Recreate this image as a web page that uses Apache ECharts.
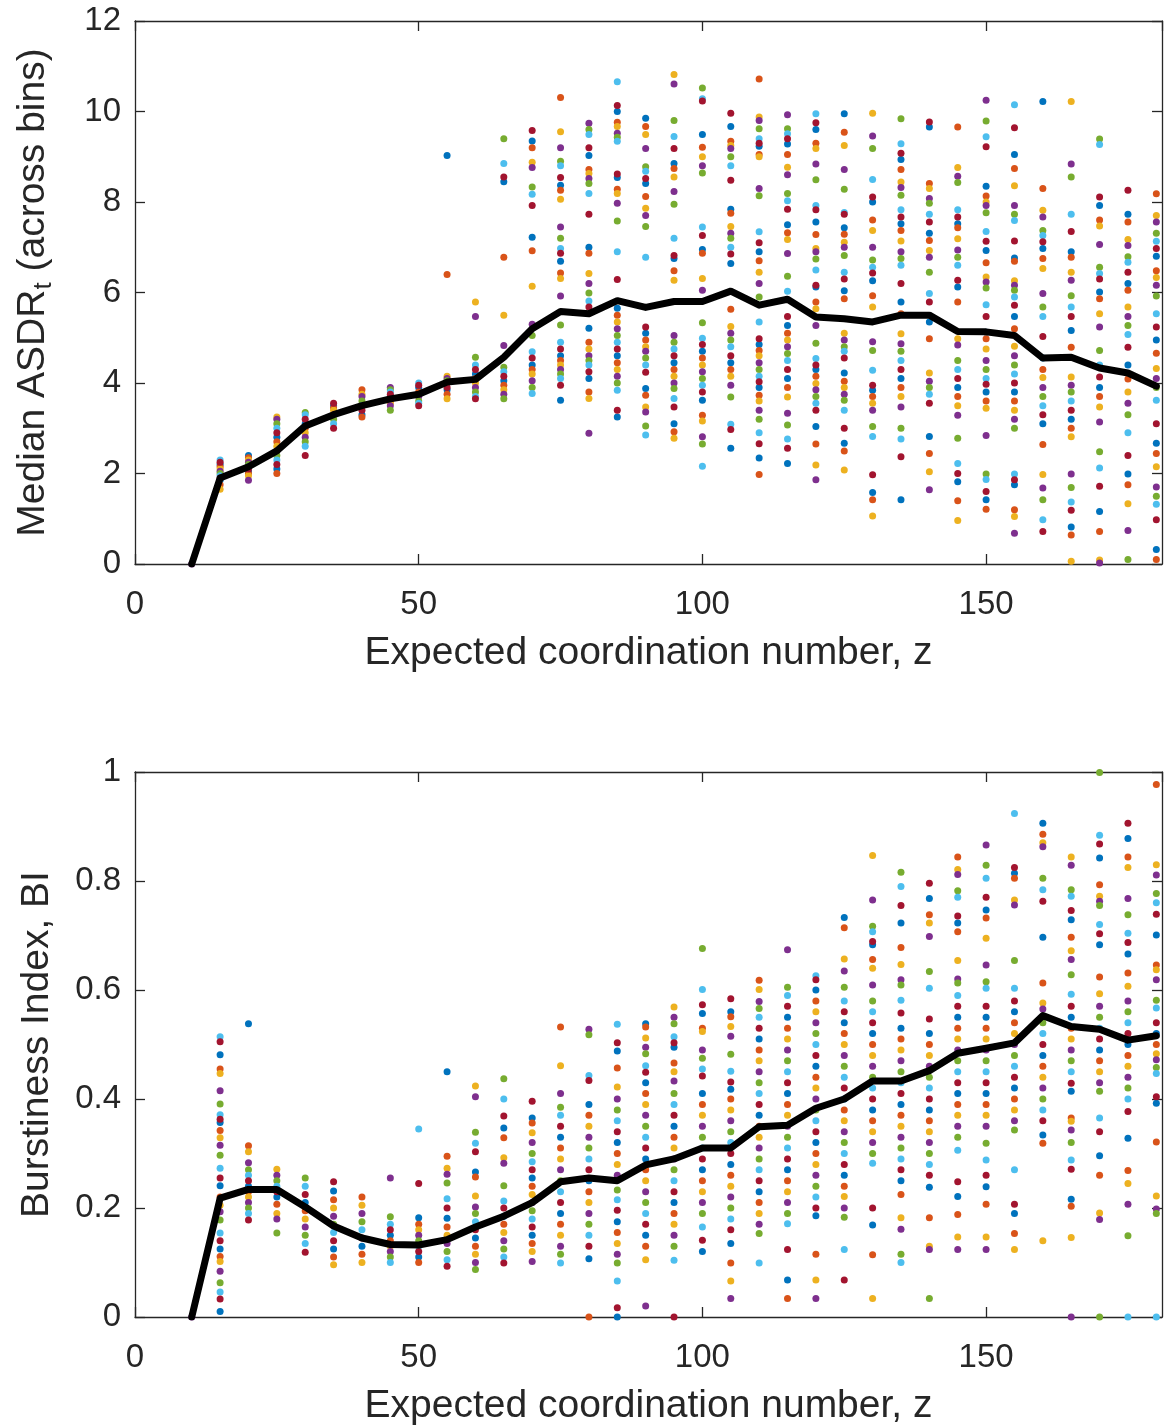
<!DOCTYPE html>
<html>
<head>
<meta charset="utf-8">
<script src="https://cdn.jsdelivr.net/npm/echarts@6/dist/echarts.min.js"></script>
<style>
  html, body { margin: 0; padding: 0; background: #fff; }
  #main { width: 1171px; height: 1427px; }
</style>
</head>
<body>
<div id="main"></div>
<script>
// expected coordination number (x columns)
var zValues = [10, 15, 20, 25, 30, 35, 40, 45, 50, 55, 60, 65, 70, 75, 80, 85, 90, 95, 100,
  105, 110, 115, 120, 125, 130, 135, 140, 145, 150, 155, 160, 165, 170, 175, 180];

// black median curves
var asdrMedian = [0, 1.9, 2.15, 2.5, 3.05, 3.3, 3.5, 3.65, 3.75, 4.02, 4.08, 4.57, 5.2, 5.58, 5.53,
  5.82, 5.67, 5.8, 5.8, 6.03, 5.72, 5.85, 5.46, 5.42, 5.35, 5.5, 5.5, 5.14, 5.13, 5.05, 4.55, 4.57,
  4.33, 4.22, 3.93];
var biMedian = [0, 0.218, 0.234, 0.234, 0.202, 0.167, 0.145, 0.133, 0.132, 0.142, 0.165, 0.185,
  0.21, 0.248, 0.255, 0.25, 0.279, 0.29, 0.31, 0.31, 0.349, 0.352, 0.383, 0.4, 0.433, 0.433, 0.452,
  0.484, 0.493, 0.503, 0.553, 0.533, 0.528, 0.508, 0.516];

// individual runs, one list per z column (top panel)
var asdrPoints = [
  [0],
  [2.3, 2.25, 2.2, 2.15, 2.1, 2.05, 2.0, 1.95, 1.9, 1.85, 1.75, 1.65],
  [2.4, 2.35, 2.3, 2.25, 2.2, 2.15, 2.1, 2.05, 2.0, 1.95, 1.85],
  [3.25, 3.2, 3.1, 3.0, 2.9, 2.8, 2.7, 2.6, 2.5, 2.4, 2.3, 2.2, 2.1, 2.0],
  [3.35, 3.3, 3.2, 3.1, 3.0, 2.9, 2.8, 2.7, 2.6, 2.4],
  [3.55, 3.5, 3.45, 3.4, 3.3, 3.2, 3.1, 3.0],
  [3.85, 3.75, 3.7, 3.6, 3.5, 3.4, 3.3, 3.25],
  [3.9, 3.85, 3.8, 3.75, 3.7, 3.6, 3.55, 3.5, 3.4],
  [4.0, 3.95, 3.9, 3.8, 3.75, 3.7, 3.6, 3.55, 3.5],
  [9.03, 6.4, 4.15, 4.1, 4.05, 4.0, 3.9, 3.85, 3.75, 3.65],
  [5.79, 5.47, 4.57, 4.4, 4.3, 4.2, 4.1, 4.0, 3.9, 3.8, 3.7, 3.65],
  [9.4, 8.85, 8.55, 8.45, 6.78, 5.5, 4.83, 4.35, 4.25, 4.15, 4.05, 3.95, 3.85, 3.75, 3.65],
  [9.58, 9.35, 9.2, 8.88, 8.76, 8.33, 8.17, 7.92, 7.22, 6.92, 6.14, 5.3, 5.05, 4.69, 4.55, 4.4, 4.3,
    4.2, 4.05, 3.9, 3.77],
  [10.31, 9.55, 9.2, 8.9, 8.8, 8.54, 8.37, 8.26, 8.06, 7.45, 7.2, 6.97, 6.87, 6.69, 6.43, 6.31, 5.92,
    5.28, 4.9, 4.75, 4.6, 4.5, 4.4, 4.3, 4.2, 4.1, 3.95, 3.62],
  [9.74, 9.6, 9.49, 9.2, 9.03, 8.72, 8.63, 8.52, 8.41, 8.19, 7.73, 7.0, 6.87, 6.42, 6.2, 5.99, 5.81,
    5.68, 5.21, 4.9, 4.75, 4.6, 4.5, 4.4, 4.25, 4.1, 3.8, 3.66, 2.89],
  [10.66, 10.13, 10.0, 9.76, 9.67, 9.52, 9.43, 9.34, 8.62, 8.54, 8.28, 8.19, 7.97, 7.58, 6.9, 6.29,
    5.65, 5.5, 5.35, 5.2, 5.05, 4.9, 4.75, 4.6, 4.45, 4.3, 4.15, 4.0, 3.84, 3.4, 3.25],
  [9.85, 9.67, 9.49, 9.18, 8.78, 8.68, 8.52, 8.41, 8.12, 7.86, 7.7, 7.46, 6.78, 5.24, 5.1, 4.95, 4.8,
    4.7, 4.55, 4.4, 4.24, 3.88, 3.73, 3.47, 3.36, 3.05, 2.85],
  [10.82, 10.61, 9.8, 9.45, 9.18, 8.85, 8.74, 8.55, 8.23, 7.95, 7.2, 6.82, 6.75, 6.48, 6.27, 5.05,
    4.9, 4.75, 4.6, 4.45, 4.3, 4.15, 4.0, 3.88, 3.66, 3.47, 3.1, 2.92, 2.78],
  [10.52, 10.28, 10.23, 9.49, 9.21, 9.0, 8.8, 8.64, 7.45, 7.26, 6.95, 6.87, 6.31, 6.05, 5.33, 4.99,
    4.85, 4.7, 4.55, 4.4, 4.25, 4.1, 3.95, 3.8, 3.62, 3.29, 3.16, 2.81, 2.65, 2.16],
  [9.96, 9.67, 9.34, 9.25, 9.18, 9.0, 8.8, 8.48, 7.84, 7.75, 7.46, 7.31, 7.2, 7.0, 6.85, 6.64, 5.63,
    5.25, 5.1, 4.95, 4.8, 4.6, 4.45, 4.3, 4.15, 3.95, 3.69, 3.09, 2.97, 2.56],
  [10.72, 9.88, 9.8, 9.62, 9.4, 9.3, 9.23, 9.05, 9.0, 8.3, 8.14, 7.34, 7.1, 6.9, 6.7, 6.45, 6.2, 5.9,
    5.35, 4.98, 4.85, 4.72, 4.6, 4.45, 4.3, 4.15, 4.03, 3.9, 3.73, 3.6, 3.4, 3.2, 2.9, 2.66, 2.34, 1.98],
  [9.93, 9.62, 9.51, 9.4, 9.28, 9.05, 8.77, 8.6, 8.19, 8.03, 7.84, 7.5, 7.32, 7.17, 6.86, 6.36, 6.03,
    5.47, 5.27, 5.1, 4.95, 4.8, 4.65, 4.5, 4.3, 4.1, 3.9, 3.69, 3.33, 3.07, 2.76, 2.56, 2.22],
  [9.95, 9.75, 9.6, 9.3, 9.18, 8.84, 8.49, 7.92, 7.83, 7.56, 7.28, 6.97, 6.9, 6.74, 6.5, 6.16, 6.12,
    5.79, 5.64, 5.27, 4.88, 4.54, 4.4, 4.3, 4.15, 3.99, 3.85, 3.7, 3.55, 3.4, 3.04, 2.65, 2.19, 1.86],
  [9.95, 9.54, 9.25, 8.72, 8.28, 7.77, 7.73, 7.43, 7.29, 7.11, 7.0, 6.82, 6.45, 6.3, 6.04, 5.86, 5.1,
    4.95, 4.8, 4.7, 4.55, 4.22, 4.04, 3.9, 3.75, 3.62, 3.4, 3.0, 2.67, 2.5, 2.08],
  [9.96, 9.46, 9.18, 8.5, 8.11, 8.0, 7.6, 7.37, 7.0, 6.72, 6.56, 6.43, 6.26, 5.93, 5.68, 4.91, 4.72,
    4.28, 3.95, 3.84, 3.7, 3.55, 3.4, 3.04, 2.82, 1.97, 1.58, 1.42, 1.06],
  [9.84, 9.29, 9.08, 8.94, 8.72, 8.44, 8.32, 8.15, 7.83, 7.67, 7.52, 7.37, 7.14, 6.9, 6.75, 6.6, 6.2,
    5.79, 5.53, 5.09, 4.87, 4.7, 4.5, 4.3, 4.1, 3.9, 3.7, 3.47, 3.0, 2.76, 2.37, 1.42],
  [9.77, 9.66, 8.41, 8.3, 8.08, 7.97, 7.73, 7.56, 7.31, 7.15, 6.93, 6.78, 6.45, 5.98, 5.79, 5.35, 4.98,
    4.22, 4.04, 3.9, 3.75, 3.55, 2.82, 2.44, 2.04, 1.64],
  [9.66, 8.76, 8.57, 8.43, 7.83, 7.67, 7.52, 7.43, 7.19, 6.94, 6.78, 6.6, 6.27, 6.12, 5.79, 4.98, 4.84,
    4.5, 4.3, 4.1, 3.9, 3.7, 3.5, 3.29, 2.78, 2.22, 2.0, 1.82, 1.4, 0.96],
  [10.25, 9.79, 9.44, 9.22, 8.35, 8.13, 8.0, 7.92, 7.76, 7.35, 7.13, 6.93, 6.66, 6.34, 6.23, 6.1, 5.73,
    5.47, 5.12, 4.98, 4.75, 4.5, 4.3, 4.1, 3.97, 3.8, 3.6, 3.44, 2.84, 1.99, 1.87, 1.6, 1.42, 1.21],
  [10.15, 9.64, 9.05, 8.74, 8.36, 7.92, 7.73, 7.59, 7.14, 6.76, 6.69, 6.26, 6.16, 6.05, 5.9, 5.72, 5.47,
    5.2, 4.81, 4.6, 4.4, 4.2, 4.0, 3.8, 3.6, 3.4, 3.2, 3.0, 1.99, 1.86, 1.75, 1.2, 1.05, 0.68],
  [10.22, 8.3, 7.82, 7.67, 7.37, 7.26, 7.12, 6.97, 6.75, 6.53, 5.98, 5.68, 5.47, 5.03, 4.55, 4.3, 4.12,
    3.9, 3.7, 3.5, 3.3, 3.1, 2.64, 1.98, 1.68, 1.42, 0.98, 0.72],
  [10.22, 8.84, 8.55, 7.73, 7.35, 6.9, 6.78, 6.45, 6.27, 5.93, 5.68, 5.47, 5.16, 4.79, 4.13, 3.95, 3.8,
    3.6, 3.4, 3.2, 3.0, 2.81, 1.99, 1.69, 1.37, 1.19, 0.82, 0.64, 0.06],
  [9.39, 9.27, 8.11, 7.92, 7.6, 7.47, 7.06, 6.56, 6.42, 6.3, 6.01, 5.86, 5.53, 5.24, 4.72, 4.4, 4.13,
    3.9, 3.7, 3.47, 3.14, 2.48, 2.12, 1.72, 1.16, 0.72, 0.09, 0.02],
  [8.26, 7.73, 7.56, 7.17, 7.04, 6.79, 6.67, 6.45, 6.2, 6.05, 5.68, 5.47, 5.27, 5.07, 4.79, 4.4, 4.09,
    3.8, 3.55, 3.3, 2.9, 2.4, 1.99, 1.75, 1.33, 0.74, 0.1],
  [8.18, 7.7, 7.56, 7.31, 7.13, 6.97, 6.8, 6.48, 6.33, 6.16, 5.92, 5.53, 5.24, 4.95, 4.66, 4.32, 4.1,
    3.9, 3.62, 3.1, 2.67, 2.44, 2.15, 1.7, 1.5, 1.32, 0.98, 0.32, 0.1]
];

// individual runs, bottom panel
var biPoints = [
  [0],
  [0.514, 0.505, 0.481, 0.455, 0.447, 0.415, 0.391, 0.371, 0.363, 0.357, 0.342, 0.329, 0.315, 0.297,
    0.273, 0.255, 0.241, 0.22, 0.205, 0.193, 0.178, 0.154, 0.14, 0.125, 0.111, 0.102, 0.084, 0.063,
    0.046, 0.033, 0.01],
  [0.538, 0.314, 0.303, 0.283, 0.27, 0.26, 0.25, 0.24, 0.23, 0.22, 0.21, 0.2, 0.19, 0.178],
  [0.271, 0.26, 0.25, 0.24, 0.23, 0.22, 0.207, 0.19, 0.18, 0.154],
  [0.255, 0.24, 0.225, 0.21, 0.195, 0.18, 0.165, 0.15, 0.135, 0.119],
  [0.248, 0.231, 0.215, 0.2, 0.185, 0.17, 0.155, 0.14, 0.125, 0.11, 0.096],
  [0.22, 0.205, 0.19, 0.175, 0.16, 0.145, 0.13, 0.115, 0.1],
  [0.255, 0.184, 0.17, 0.16, 0.15, 0.14, 0.13, 0.12, 0.11, 0.1],
  [0.345, 0.245, 0.182, 0.17, 0.16, 0.15, 0.14, 0.13, 0.12, 0.11, 0.1],
  [0.45, 0.295, 0.273, 0.262, 0.246, 0.217, 0.2, 0.181, 0.165, 0.15, 0.135, 0.12, 0.105, 0.093],
  [0.424, 0.404, 0.339, 0.319, 0.303, 0.266, 0.257, 0.222, 0.202, 0.19, 0.175, 0.16, 0.145, 0.13,
    0.115, 0.1, 0.087],
  [0.437, 0.4, 0.369, 0.347, 0.329, 0.292, 0.282, 0.241, 0.213, 0.2, 0.185, 0.17, 0.155, 0.14, 0.125,
    0.11, 0.099],
  [0.396, 0.365, 0.356, 0.338, 0.32, 0.3, 0.285, 0.27, 0.255, 0.24, 0.225, 0.21, 0.195, 0.18, 0.165,
    0.15, 0.135, 0.12, 0.102],
  [0.532, 0.461, 0.41, 0.385, 0.37, 0.35, 0.33, 0.31, 0.29, 0.27, 0.25, 0.23, 0.21, 0.19, 0.17, 0.15,
    0.13, 0.115, 0.099],
  [0.528, 0.518, 0.443, 0.434, 0.39, 0.37, 0.35, 0.33, 0.31, 0.29, 0.27, 0.25, 0.23, 0.21, 0.19, 0.17,
    0.15, 0.13, 0.107, 0.0],
  [0.537, 0.503, 0.488, 0.457, 0.422, 0.4, 0.38, 0.36, 0.34, 0.32, 0.3, 0.28, 0.26, 0.233, 0.215,
    0.196, 0.175, 0.155, 0.135, 0.115, 0.099, 0.066, 0.017, 0.0],
  [0.538, 0.532, 0.512, 0.495, 0.483, 0.461, 0.449, 0.43, 0.41, 0.39, 0.37, 0.35, 0.33, 0.31, 0.29,
    0.27, 0.25, 0.23, 0.21, 0.19, 0.17, 0.15, 0.13, 0.105, 0.02],
  [0.569, 0.55, 0.538, 0.514, 0.503, 0.495, 0.466, 0.45, 0.433, 0.41, 0.39, 0.37, 0.35, 0.33, 0.31,
    0.29, 0.27, 0.25, 0.23, 0.21, 0.19, 0.17, 0.15, 0.13, 0.104, 0.0],
  [0.676, 0.601, 0.573, 0.557, 0.53, 0.524, 0.49, 0.475, 0.455, 0.442, 0.41, 0.39, 0.37, 0.35, 0.33,
    0.31, 0.29, 0.27, 0.25, 0.23, 0.21, 0.19, 0.165, 0.141, 0.12],
  [0.584, 0.56, 0.551, 0.533, 0.515, 0.482, 0.451, 0.431, 0.418, 0.4, 0.38, 0.36, 0.34, 0.32, 0.3,
    0.28, 0.26, 0.24, 0.22, 0.2, 0.18, 0.16, 0.135, 0.099, 0.066, 0.034],
  [0.618, 0.601, 0.579, 0.566, 0.55, 0.53, 0.51, 0.49, 0.47, 0.45, 0.43, 0.41, 0.39, 0.37, 0.35,
    0.33, 0.31, 0.29, 0.27, 0.25, 0.23, 0.21, 0.19, 0.17, 0.153, 0.099],
  [0.674, 0.605, 0.59, 0.57, 0.55, 0.53, 0.51, 0.49, 0.47, 0.45, 0.43, 0.41, 0.39, 0.37, 0.35, 0.33,
    0.31, 0.29, 0.27, 0.25, 0.23, 0.21, 0.19, 0.171, 0.124, 0.068, 0.034],
  [0.626, 0.619, 0.6, 0.58, 0.56, 0.54, 0.52, 0.5, 0.48, 0.46, 0.44, 0.42, 0.4, 0.38, 0.36, 0.34,
    0.32, 0.3, 0.28, 0.26, 0.24, 0.22, 0.2, 0.186, 0.115, 0.068, 0.034],
  [0.733, 0.714, 0.657, 0.635, 0.605, 0.58, 0.56, 0.54, 0.52, 0.5, 0.48, 0.46, 0.44, 0.42, 0.4, 0.38,
    0.36, 0.34, 0.32, 0.3, 0.28, 0.26, 0.24, 0.221, 0.2, 0.183, 0.124, 0.068],
  [0.847, 0.765, 0.717, 0.707, 0.689, 0.683, 0.656, 0.64, 0.609, 0.58, 0.56, 0.54, 0.52, 0.5, 0.48,
    0.46, 0.44, 0.42, 0.4, 0.38, 0.36, 0.34, 0.32, 0.3, 0.282, 0.2, 0.169, 0.114, 0.034],
  [0.816, 0.79, 0.755, 0.723, 0.678, 0.647, 0.619, 0.609, 0.581, 0.558, 0.53, 0.51, 0.49, 0.47, 0.45,
    0.43, 0.41, 0.39, 0.37, 0.35, 0.33, 0.31, 0.29, 0.27, 0.25, 0.225, 0.182, 0.161, 0.115, 0.1],
  [0.796, 0.768, 0.738, 0.723, 0.698, 0.634, 0.603, 0.547, 0.52, 0.5, 0.48, 0.46, 0.44, 0.42, 0.4,
    0.38, 0.36, 0.34, 0.32, 0.3, 0.28, 0.26, 0.238, 0.182, 0.13, 0.124, 0.034],
  [0.844, 0.821, 0.812, 0.782, 0.77, 0.736, 0.723, 0.707, 0.654, 0.62, 0.613, 0.59, 0.57, 0.55, 0.53,
    0.51, 0.49, 0.47, 0.45, 0.43, 0.41, 0.39, 0.37, 0.35, 0.33, 0.306, 0.248, 0.221, 0.188, 0.147, 0.124],
  [0.866, 0.829, 0.805, 0.77, 0.747, 0.732, 0.695, 0.646, 0.615, 0.603, 0.57, 0.55, 0.53, 0.51, 0.49,
    0.47, 0.45, 0.43, 0.41, 0.39, 0.37, 0.35, 0.319, 0.288, 0.26, 0.239, 0.207, 0.147, 0.124],
  [0.924, 0.825, 0.814, 0.805, 0.765, 0.756, 0.654, 0.603, 0.58, 0.56, 0.54, 0.52, 0.5, 0.48, 0.46,
    0.44, 0.42, 0.4, 0.38, 0.36, 0.343, 0.27, 0.207, 0.19, 0.153, 0.124],
  [0.906, 0.886, 0.87, 0.863, 0.805, 0.784, 0.763, 0.697, 0.613, 0.576, 0.565, 0.54, 0.52, 0.5, 0.48,
    0.46, 0.44, 0.42, 0.4, 0.38, 0.36, 0.334, 0.319, 0.14],
  [0.844, 0.829, 0.784, 0.772, 0.746, 0.729, 0.697, 0.672, 0.656, 0.628, 0.592, 0.57, 0.55, 0.53,
    0.51, 0.49, 0.47, 0.45, 0.429, 0.414, 0.365, 0.359, 0.343, 0.32, 0.288, 0.271, 0.216, 0.203, 0.146, 0.0],
  [0.999, 0.884, 0.868, 0.842, 0.793, 0.772, 0.763, 0.755, 0.72, 0.703, 0.683, 0.624, 0.593, 0.57,
    0.55, 0.53, 0.51, 0.49, 0.47, 0.45, 0.43, 0.414, 0.365, 0.34, 0.296, 0.26, 0.191, 0.179, 0.0],
  [0.906, 0.878, 0.844, 0.825, 0.768, 0.738, 0.704, 0.687, 0.666, 0.631, 0.607, 0.58, 0.56, 0.54,
    0.52, 0.5, 0.48, 0.46, 0.44, 0.42, 0.4, 0.377, 0.328, 0.269, 0.245, 0.207, 0.149, 0.0],
  [0.977, 0.83, 0.811, 0.777, 0.76, 0.739, 0.701, 0.646, 0.637, 0.619, 0.581, 0.567, 0.54, 0.52, 0.5,
    0.483, 0.472, 0.458, 0.447, 0.404, 0.392, 0.321, 0.222, 0.198, 0.19, 0.0]
];

// MATLAB default colour order
var runColors = ['#0072BD', '#D95319', '#EDB120', '#7E2F8E', '#77AC30', '#4DBEEE', '#A2142F'];

var FONT = '"Liberation Sans", Arial, Helvetica, sans-serif';
var INK = '#262626';

var chart = echarts.init(document.getElementById('main'));

// split every column over the 7 colour series
function buildScatter(points, axisIdx) {
  var out = [];
  for (var k = 0; k < runColors.length; k++) {
    out.push({
      type: 'scatter',
      xAxisIndex: axisIdx,
      yAxisIndex: axisIdx,
      symbolSize: 7,
      itemStyle: { color: runColors[k], opacity: 1 },
      silent: true,
      data: []
    });
  }
  for (var c = 0; c < zValues.length; c++) {
    var col = points[c];
    for (var i = 0; i < col.length; i++) {
      out[(i + 2 * c + 3) % 7].data.push([zValues[c], col[i]]);
    }
  }
  return out;
}

function medianLine(med, axisIdx) {
  return {
    type: 'line',
    xAxisIndex: axisIdx,
    yAxisIndex: axisIdx,
    symbol: 'none',
    z: 5,
    lineStyle: { color: '#000', width: 7, join: 'round', cap: 'round' },
    data: zValues.map(function (z, i) { return [z, med[i]]; })
  };
}

function xAxisPair(g) {
  var base = {
    type: 'value', gridIndex: g, min: 0, max: 181, interval: 50,
    axisLine: { show: true, onZero: false, lineStyle: { color: INK, width: 1.3 } },
    axisTick: { inside: true, length: 10, lineStyle: { color: INK, width: 1.3 } },
    splitLine: { show: false }
  };
  var bottom = Object.assign({}, base, {
    position: 'bottom',
    name: 'Expected coordination number, z',
    nameLocation: 'middle',
    nameGap: 70,
    nameTextStyle: { fontSize: 39, color: INK, fontFamily: FONT },
    axisLabel: { fontSize: 33, color: INK, fontFamily: FONT, margin: 24, showMaxLabel: false }
  });
  var top = Object.assign({}, base, { position: 'top', axisLabel: { show: false } });
  return [bottom, top];
}

function yAxisPair(g, max, interval, name, rich) {
  var base = {
    type: 'value', gridIndex: g, min: 0, max: max, interval: interval,
    axisLine: { show: true, onZero: false, lineStyle: { color: INK, width: 1.3 } },
    axisTick: { inside: true, length: 10, lineStyle: { color: INK, width: 1.3 } },
    splitLine: { show: false }
  };
  var left = Object.assign({}, base, {
    position: 'left',
    name: name,
    nameLocation: 'middle',
    nameGap: 78,
    nameTextStyle: { fontSize: 39, color: INK, fontFamily: FONT, rich: rich },
    axisLabel: { fontSize: 33, color: INK, fontFamily: FONT, margin: 14 }
  });
  var right = Object.assign({}, base, { position: 'right', axisLabel: { show: false } });
  return [left, right];
}

var subRich = {
  sub: { fontSize: 26, color: INK, fontFamily: FONT, padding: [22, 0, 0, 0] }
};

var option = {
  animation: false,
  backgroundColor: '#fff',
  grid: [
    { left: 135, top: 21, width: 1027, height: 543 },
    { left: 135, top: 772, width: 1027, height: 545 }
  ],
  xAxis: xAxisPair(0).concat(xAxisPair(1)),
  yAxis: yAxisPair(0, 12, 2, 'Median ASDR{sub|t} (across bins)', subRich)
    .concat(yAxisPair(1, 1, 0.2, 'Burstiness Index, BI', {})),
  series: buildScatter(asdrPoints, 0)
    .concat([medianLine(asdrMedian, 0)])
    .concat(buildScatter(biPoints, 2))
    .concat([medianLine(biMedian, 2)])
};

chart.setOption(option);
</script>
</body>
</html>
